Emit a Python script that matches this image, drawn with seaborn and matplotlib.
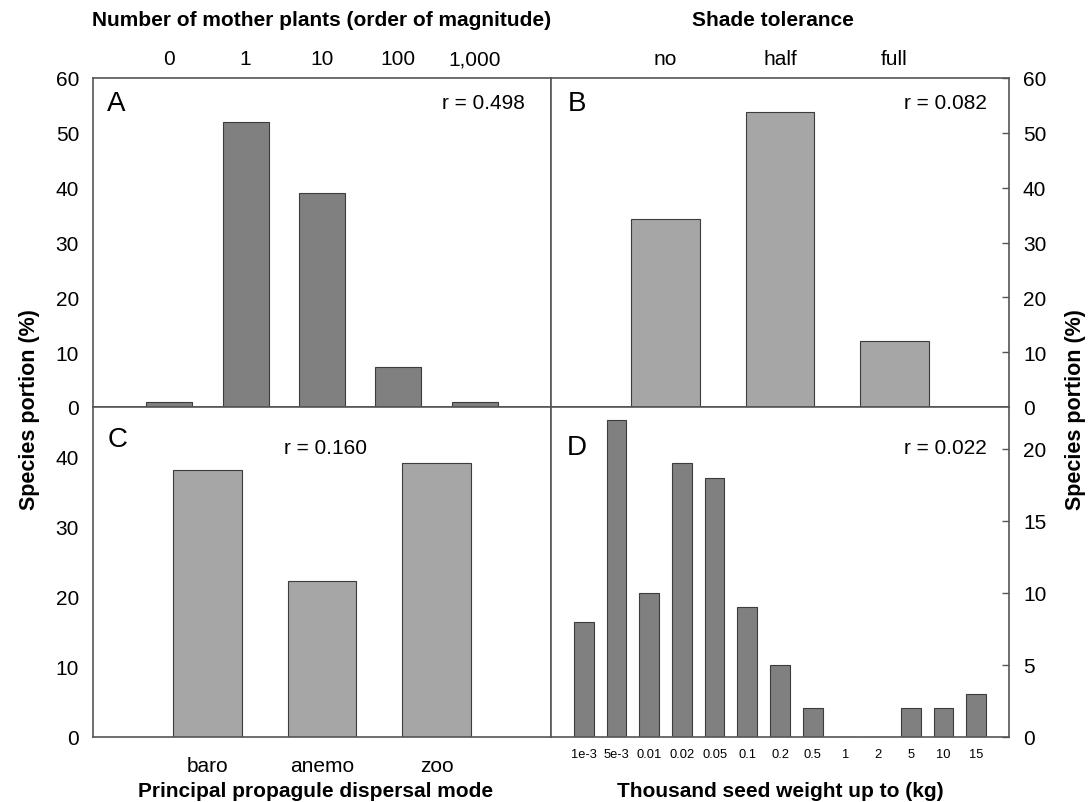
import numpy as np
import pandas as pd
import seaborn as sns
import matplotlib.pyplot as plt

sns.set_style("white")
plt.rcParams['font.family'] = ['Liberation Sans', 'DejaVu Sans']
plt.rcParams['text.color'] = 'black'
plt.rcParams['xtick.color'] = 'black'
plt.rcParams['ytick.color'] = 'black'

# panel A
mother_cats = ["0", "1", "10", "100", "1,000"]
mother_vals = [0.9, 52.0, 39.0, 7.3, 0.9]
# panel B
shade_cats = ["no", "half", "full"]
shade_vals = [34.3, 53.8, 12.0]
# panel C
dispersal_cats = ["baro", "anemo", "zoo"]
dispersal_vals = [38.0, 22.2, 39.0]
# panel D
weight_cats = ["1e-3", "5e-3", "0.01", "0.02", "0.05", "0.1", "0.2", "0.5", "1", "2", "5", "10", "15"]
weight_vals = [8.0, 22.0, 10.0, 19.0, 18.0, 9.0, 5.0, 2.0, 0.0, 0.0, 2.0, 2.0, 3.0]

r_values = {"A": "r = 0.498", "B": "r = 0.082", "C": "r = 0.160", "D": "r = 0.022"}

dark = "#808080"
light = "#a6a6a6"
edge = "#3c3c3c"
frame = "#555555"
fs = 15

W, H = 1088, 803
fig = plt.figure(figsize=(W / 100, H / 100), dpi=100)

x0, x1, x2 = 93 / W, 551 / W, 1009 / W
y_top, y_mid, y_bot = 1 - 79 / H, 1 - 408 / H, 1 - 738 / H

axA = fig.add_axes([x0, y_mid, x1 - x0, y_top - y_mid])
axB = fig.add_axes([x1, y_mid, x2 - x1, y_top - y_mid])
axC = fig.add_axes([x0, y_bot, x1 - x0, y_mid - y_bot])
axD = fig.add_axes([x1, y_bot, x2 - x1, y_mid - y_bot])


def bars(ax, cats, vals, color):
    df = pd.DataFrame({"cat": cats, "val": vals})
    sns.barplot(data=df, x="cat", y="val", color=color, width=0.6,
                edgecolor=edge, linewidth=0.8, saturation=1, ax=ax)
    ax.set_xlabel("")
    ax.set_ylabel("")
    for s in ax.spines.values():
        s.set_visible(True)
        s.set_color(frame)
        s.set_linewidth(1.2)
    ax.tick_params(axis="x", length=0)
    ax.tick_params(axis="y", length=5, width=1.0, color=frame, labelsize=fs,
                   direction="in", pad=10)


bars(axA, mother_cats, mother_vals, dark)
axA.set_xlim(-1, 5)
axA.set_ylim(0, 60)
axA.set_yticks(np.arange(0, 61, 10))
axA.xaxis.tick_top()
axA.set_xticks(range(len(mother_cats)))
axA.set_xticklabels(mother_cats, fontsize=fs)
axA.tick_params(axis="x", pad=7)

bars(axB, shade_cats, shade_vals, light)
axB.set_xlim(-1, 3)
axB.set_ylim(0, 60)
axB.set_yticks(np.arange(0, 61, 10))
axB.yaxis.tick_right()
axB.xaxis.tick_top()
axB.set_xticks(range(len(shade_cats)))
axB.set_xticklabels(shade_cats, fontsize=fs)
axB.tick_params(axis="x", pad=7)

bars(axC, dispersal_cats, dispersal_vals, light)
axC.set_xlim(-1, 3)
axC.set_ylim(0, 47)
axC.set_yticks(np.arange(0, 41, 10))
axC.set_xticks(range(len(dispersal_cats)))
axC.set_xticklabels(dispersal_cats, fontsize=fs)
axC.tick_params(axis="x", pad=14)

bars(axD, weight_cats, weight_vals, dark)
axD.set_xlim(-1, 13)
axD.set_ylim(0, 22.9)
axD.set_yticks(np.arange(0, 21, 5))
axD.yaxis.tick_right()
axD.set_xticks(range(len(weight_cats)))
axD.set_xticklabels(weight_cats, fontsize=9.3)
axD.tick_params(axis="x", pad=8)

# panel letters and r values
axA.text(0.031, 0.924, "A", transform=axA.transAxes, fontsize=20, va="center", ha="left")
axA.text(0.943, 0.927, r_values["A"], transform=axA.transAxes, fontsize=fs, va="center", ha="right")
axB.text(0.037, 0.924, "B", transform=axB.transAxes, fontsize=20, va="center", ha="left")
axB.text(0.952, 0.927, r_values["B"], transform=axB.transAxes, fontsize=fs, va="center", ha="right")
axC.text(0.031, 0.903, "C", transform=axC.transAxes, fontsize=20, va="center", ha="left")
axC.text(0.508, 0.876, r_values["C"], transform=axC.transAxes, fontsize=fs, va="center", ha="center")
axD.text(0.035, 0.88, "D", transform=axD.transAxes, fontsize=20, va="center", ha="left")
axD.text(0.952, 0.876, r_values["D"], transform=axD.transAxes, fontsize=fs, va="center", ha="right")

# outer titles
fig.text(322 / W, 1 - 21 / H, "Number of mother plants (order of magnitude)",
         fontsize=fs, fontweight="bold", ha="center", va="center")
fig.text(773 / W, 1 - 21 / H, "Shade tolerance",
         fontsize=fs, fontweight="bold", ha="center", va="center")
fig.text(316 / W, 1 - 792 / H, "Principal propagule dispersal mode",
         fontsize=fs, fontweight="bold", ha="center", va="center")
fig.text(780 / W, 1 - 792 / H, "Thousand seed weight up to (kg)",
         fontsize=fs, fontweight="bold", ha="center", va="center")
fig.text(30 / W, 1 - 410 / H, "Species portion (%)", rotation=90,
         fontsize=15.5, fontweight="bold", ha="center", va="center")
fig.text(1075 / W, 1 - 410 / H, "Species portion (%)", rotation=90,
         fontsize=15.5, fontweight="bold", ha="center", va="center")

fig.savefig("out.png", dpi=100)
